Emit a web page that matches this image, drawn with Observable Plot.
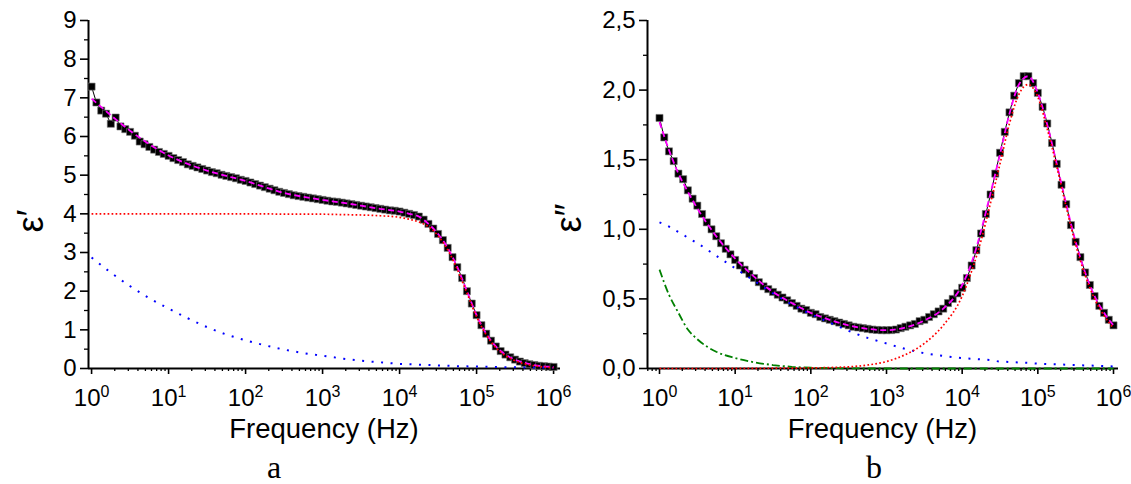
<!DOCTYPE html>
<html>
<head>
<meta charset="utf-8">
<script src="https://cdn.jsdelivr.net/npm/d3@7"></script>
<script src="https://cdn.jsdelivr.net/npm/@observablehq/plot@0.6"></script>
<style>
  html, body { margin: 0; padding: 0; background: #fff; width: 1131px; height: 484px; overflow: hidden; }
  #wrap { position: relative; width: 1131px; height: 484px; }
  .layer { position: absolute; top: 0; }
  .cap { position: absolute; top: 451px; font-family: "Liberation Serif", "Times New Roman", serif; font-size: 32px; line-height: 32px; transform: translateX(-50%); color: #000; }
</style>
</head>
<body>
<div id="wrap">
  <div class="layer" id="pa" style="left:0;z-index:1"></div>
  <div class="layer" id="pb" style="left:560px;z-index:1"></div>
  <div class="cap" style="left:274px">a</div>
  <div class="cap" style="left:874px">b</div>
</div>
<script>
// ---------- data (frequency in Hz) ----------
const freq = [1, 1.155, 1.334, 1.54, 1.778, 2.054, 2.371, 2.738, 3.162, 3.652, 4.217, 4.87, 5.623, 6.494, 7.499, 8.66,
  10, 11.55, 13.34, 15.4, 17.78, 20.54, 23.71, 27.38, 31.62, 36.52, 42.17, 48.7, 56.23, 64.94, 74.99, 86.6,
  100, 115.5, 133.4, 154, 177.8, 205.4, 237.1, 273.8, 316.2, 365.2, 421.7, 487, 562.3, 649.4, 749.9, 866,
  1000, 1155, 1334, 1540, 1778, 2054, 2371, 2738, 3162, 3652, 4217, 4870, 5623, 6494, 7499, 8660,
  10000, 11550, 13340, 15400, 17780, 20540, 23710, 27380, 31620, 36520, 42170, 48700, 56230, 64940, 74990, 86600,
  100000, 115500, 133400, 154000, 177800, 205400, 237100, 273800, 316200, 365200, 421700, 487000, 562300, 649400, 749900, 866000,
  1000000];

// measured epsilon' (panel a)
const epsReal = [7.29, 6.88, 6.67, 6.59, 6.33, 6.49, 6.26, 6.19, 6.12, 6.02, 5.87, 5.80, 5.73, 5.66, 5.60, 5.55,
  5.50, 5.44, 5.39, 5.34, 5.28, 5.24, 5.20, 5.16, 5.12, 5.08, 5.05, 5.01, 4.98, 4.95, 4.92, 4.88,
  4.85, 4.81, 4.77, 4.73, 4.69, 4.65, 4.61, 4.57, 4.54, 4.51, 4.48, 4.46, 4.44, 4.42, 4.40, 4.38,
  4.36, 4.34, 4.32, 4.31, 4.29, 4.27, 4.25, 4.23, 4.21, 4.19, 4.17, 4.15, 4.13, 4.11, 4.09, 4.08,
  4.06, 4.03, 4.00, 3.97, 3.93, 3.85, 3.74, 3.62, 3.48, 3.32, 3.12, 2.88, 2.62, 2.34, 2.00, 1.68,
  1.38, 1.12, 0.90, 0.72, 0.57, 0.45, 0.36, 0.29, 0.23, 0.18, 0.14, 0.11, 0.09, 0.07, 0.06, 0.05,
  0.04];

// measured epsilon'' (panel b)
const epsImag = [1.80, 1.66, 1.56, 1.49, 1.40, 1.36, 1.28, 1.22, 1.17, 1.11, 1.05, 1.00, 0.95, 0.90, 0.86, 0.82,
  0.78, 0.74, 0.71, 0.68, 0.65, 0.62, 0.59, 0.57, 0.55, 0.53, 0.51, 0.49, 0.47, 0.45, 0.43, 0.42,
  0.40, 0.39, 0.37, 0.36, 0.35, 0.34, 0.33, 0.32, 0.31, 0.30, 0.295, 0.29, 0.285, 0.28, 0.277, 0.275,
  0.275, 0.276, 0.28, 0.29, 0.30, 0.31, 0.32, 0.34, 0.35, 0.37, 0.39, 0.41, 0.43, 0.47, 0.50, 0.54,
  0.58, 0.65, 0.74, 0.85, 0.97, 1.11, 1.25, 1.40, 1.55, 1.70, 1.84, 1.96, 2.05, 2.10, 2.10, 2.05,
  1.98, 1.88, 1.76, 1.62, 1.47, 1.32, 1.18, 1.03, 0.91, 0.80, 0.69, 0.60, 0.52, 0.45, 0.40, 0.35,
  0.31];

// fit curves, panel a
const curveFreqA = [1, 1.778, 3.162, 5.623, 10, 17.78, 31.62, 56.23, 100, 177.8, 316.2, 562.3, 1000, 1778, 3162, 5623,
  10000, 13340, 17780, 23710, 31620, 42170, 56230, 74990, 100000, 133400, 177800, 237100, 316200, 562300, 1000000];
const fitTotalA = [6.98, 6.55, 6.15, 5.80, 5.51, 5.29, 5.12, 4.98, 4.85, 4.69, 4.54, 4.44, 4.36, 4.29, 4.21, 4.13,
  4.06, 4.00, 3.93, 3.74, 3.48, 3.12, 2.62, 2.00, 1.38, 0.90, 0.57, 0.36, 0.23, 0.09, 0.04];
const fitHighA = [4.00, 4.00, 4.00, 4.00, 4.00, 4.00, 4.00, 4.00, 4.00, 4.00, 3.99, 3.99, 3.99, 3.98, 3.97, 3.95,
  3.91, 3.86, 3.79, 3.67, 3.43, 3.07, 2.56, 1.95, 1.34, 0.87, 0.54, 0.33, 0.20, 0.07, 0.02];
const fitLowA = [2.87, 2.48, 2.13, 1.82, 1.55, 1.30, 1.07, 0.88, 0.73, 0.60, 0.49, 0.40, 0.33, 0.26, 0.20, 0.16,
  0.12, 0.11, 0.10, 0.09, 0.08, 0.07, 0.06, 0.055, 0.05, 0.045, 0.04, 0.035, 0.03, 0.025, 0.02];

// fit curves, panel b
const curveFreqB = [1, 1.334, 1.778, 2.371, 3.162, 5.623, 10, 17.78, 31.62, 56.23, 100, 177.8, 316.2, 562.3, 1000, 1778,
  3162, 5623, 10000, 13340, 17780, 23710, 31620, 42170, 56230, 74990, 100000, 133400, 177800, 237100, 316200, 421700,
  562300, 749900, 1000000];
const fitTotalB = [1.77, 1.57, 1.40, 1.27, 1.15, 0.95, 0.79, 0.66, 0.55, 0.47, 0.40, 0.35, 0.31, 0.285, 0.275, 0.295,
  0.345, 0.43, 0.60, 0.76, 0.99, 1.26, 1.54, 1.83, 2.04, 2.10, 1.98, 1.75, 1.47, 1.18, 0.91, 0.69,
  0.52, 0.40, 0.31];
const fitHighB = [0, 0, 0, 0, 0, 0, 0.001, 0.001, 0.002, 0.003, 0.004, 0.007, 0.012, 0.025, 0.05, 0.10,
  0.18, 0.31, 0.52, 0.70, 0.92, 1.19, 1.47, 1.76, 1.97, 2.04, 1.95, 1.72, 1.45, 1.16, 0.89, 0.67,
  0.50, 0.38, 0.29];
const fitLowB = [1.05, 1.02, 0.98, 0.94, 0.90, 0.81, 0.72, 0.63, 0.54, 0.46, 0.39, 0.33, 0.27, 0.22, 0.18, 0.14,
  0.11, 0.09, 0.075, 0.07, 0.065, 0.06, 0.05, 0.047, 0.043, 0.04, 0.035, 0.032, 0.03, 0.027, 0.025, 0.022,
  0.02, 0.017, 0.015];
const fitDcB = [0.71, 0.53, 0.40, 0.28, 0.21, 0.12, 0.075, 0.045, 0.025, 0.012, 0.006, 0.003, 0.001, 0, 0, 0,
  0, 0, 0, 0, 0, 0, 0, 0, 0, 0, 0, 0, 0, 0, 0, 0,
  0, 0, 0];

// ticks
const majorX = [1, 10, 100, 1000, 10000, 100000, 1000000];
const minorMantissa = [2, 3, 4, 5, 6, 7, 8, 9];
const minorXA = [1, 10, 100, 1000, 10000, 100000].flatMap(d => minorMantissa.map(m => m * d));
const minorXB = [0.7, 0.8, 0.9, ...minorXA];
const yTicksA = [0, 1, 2, 3, 4, 5, 6, 7, 8, 9];
const yMinorA = [0.5, 1.5, 2.5, 3.5, 4.5, 5.5, 6.5, 7.5, 8.5];
const yTicksB = [0, 0.5, 1, 1.5, 2, 2.5];
const yMinorB = [0.25, 0.75, 1.25, 1.75, 2.25];

const FONT = '"Liberation Sans", Arial, Helvetica, sans-serif';
const rows = (fs, vs) => fs.map((f, i) => ({f, v: vs[i]}));

function tidyTexts(svg) {
  const ns = "http://www.w3.org/2000/svg";
  svg.querySelectorAll("text").forEach(t => {
    const s = t.textContent;
    if (!s) { t.remove(); return; }
    if (!s.includes("^")) return;
    const [b, e] = s.split("^");
    t.textContent = "";
    const t1 = document.createElementNS(ns, "tspan");
    t1.textContent = b;
    const t2 = document.createElementNS(ns, "tspan");
    t2.textContent = e;
    t2.setAttribute("dy", "-9");
    t2.setAttribute("font-size", "16");
    t.append(t1, t2);
  });
  svg.querySelectorAll("g").forEach(g => { const a = g.getAttribute("aria-label"); if (a && a.includes("tick label") && !g.querySelector("text")) g.remove(); });
}

function panel(o) {
  const curveOpts = {x: "f", y: "v", curve: "monotone-x", fill: "none", strokeLinecap: "butt", strokeLinejoin: "miter"};
  const marks = [
    Plot.axisX({ticks: majorX, tickSize: 6, tickPadding: 14, fontSize: 24, strokeWidth: 1.6,
      tickFormat: d => "10^" + Math.round(Math.log10(d)), label: null}),
    Plot.axisX({ticks: o.xMinor, tickSize: 3, strokeWidth: 1.3, tickFormat: () => "", label: null}),
    Plot.axisY({ticks: o.yTicks, tickSize: 8, tickPadding: 4, fontSize: 24, strokeWidth: 1.6,
      tickFormat: o.yFormat, label: null}),
    Plot.axisY({ticks: o.yMinor, tickSize: 4, strokeWidth: 1.3, tickFormat: () => "", label: null}),
    Plot.ruleY([o.yDomain[0]], {stroke: "black", strokeWidth: 2}),
    Plot.ruleX([o.xDomain[0]], {stroke: "black", strokeWidth: 2}),
    Plot.line(o.data, {x: "f", y: "v", stroke: "black", strokeWidth: 1}),
    Plot.dot(o.data, {x: "f", y: "v", symbol: "square", r: 4, fill: "black", stroke: "#777", strokeWidth: 0.6}),
    ...o.curves.map(c => Plot.line(c.data, {...curveOpts, stroke: c.color, strokeWidth: c.width,
      strokeDasharray: c.dash}))
  ];
  const svg = Plot.plot({
    width: o.width, height: 445,
    marginLeft: o.marginLeft, marginRight: o.marginRight, marginTop: 20, marginBottom: 77,
    style: {background: "transparent", color: "black", fontFamily: FONT, overflow: "visible"},
    x: {type: "log", domain: o.xDomain},
    y: {domain: o.yDomain},
    marks
  });
  tidyTexts(svg);
  const s = d3.select(svg);
  const cx = o.marginLeft + (o.width - o.marginLeft - o.marginRight) / 2;
  s.append("text").attr("x", cx).attr("y", 438).attr("text-anchor", "middle")
    .attr("font-family", FONT).attr("font-size", 27.5).attr("fill", "black").text("Frequency (Hz)");
  s.append("text").attr("transform", `translate(${o.labelX},${o.labelY}) rotate(-90)`)
    .attr("text-anchor", "middle").attr("font-family", FONT).attr("font-size", 36)
    .attr("fill", "black").text(o.yLabel);
  return svg;
}

const panelA = panel({
  width: 575, marginLeft: 88, marginRight: 15,
  xDomain: [0.912, 1.23e6], yDomain: [0, 9],
  xMinor: minorXA, yTicks: yTicksA, yMinor: yMinorA, yFormat: d => String(d),
  data: rows(freq, epsReal),
  curves: [
    {data: rows(curveFreqA, fitLowA), color: "#0000ff", width: 2, dash: "2,7.5"},
    {data: rows(curveFreqA, fitTotalA), color: "#ff00ff", width: 1.8, dash: "6,3.5"},
    {data: rows(curveFreqA, fitHighA), color: "#ff0000", width: 1.7, dash: "1.7,2.3"}
  ],
  labelX: 43, labelY: 221, yLabel: "ε′"
});

const panelB = panel({
  width: 571, marginLeft: 87, marginRight: 13,
  xDomain: [0.694, 1.164e6], yDomain: [0, 2.5],
  xMinor: minorXB, yTicks: yTicksB, yMinor: yMinorB, yFormat: d => d.toFixed(1).replace(".", ","),
  data: rows(freq, epsImag),
  curves: [
    {data: rows(curveFreqB, fitDcB), color: "#008000", width: 1.8, dash: "8,3,2,3"},
    {data: rows(curveFreqB, fitLowB), color: "#0000ff", width: 2, dash: "2,7.5"},
    {data: rows(curveFreqB, fitTotalB), color: "#ff00ff", width: 1.8, dash: "6,3.5"},
    {data: rows(curveFreqB, fitHighB), color: "#ff0000", width: 1.7, dash: "1.7,2.3"}
  ],
  labelX: 21, labelY: 218, yLabel: "ε″"
});

document.getElementById("pa").append(panelA);
document.getElementById("pb").append(panelB);
</script>
</body>
</html>
